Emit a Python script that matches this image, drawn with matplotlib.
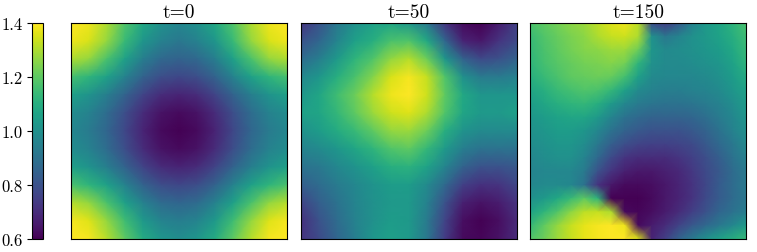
import numpy as np
import matplotlib
matplotlib.use("Agg")
import matplotlib.pyplot as plt

titles = ["t=0", "t=50", "t=150"]
cbar_ticks = [0.6, 0.8, 1.0, 1.2, 1.4]

field_t0 = [
 [1.40,1.38,1.30,1.18,1.08,1.00,0.97,1.00,1.08,1.18,1.30,1.38,1.40],
 [1.38,1.35,1.27,1.14,1.02,0.95,0.92,0.95,1.02,1.14,1.27,1.35,1.38],
 [1.30,1.27,1.17,1.05,0.94,0.87,0.85,0.87,0.94,1.05,1.17,1.27,1.30],
 [1.16,1.12,1.05,0.95,0.85,0.79,0.77,0.79,0.85,0.95,1.05,1.12,1.16],
 [1.05,1.01,0.94,0.85,0.76,0.70,0.68,0.70,0.76,0.85,0.94,1.01,1.05],
 [0.99,0.95,0.88,0.79,0.70,0.64,0.62,0.64,0.70,0.79,0.88,0.95,0.99],
 [0.97,0.93,0.86,0.77,0.68,0.62,0.60,0.62,0.68,0.77,0.86,0.93,0.97],
 [0.99,0.95,0.88,0.79,0.70,0.64,0.62,0.64,0.70,0.79,0.88,0.95,0.99],
 [1.05,1.01,0.94,0.85,0.76,0.70,0.68,0.70,0.76,0.85,0.94,1.01,1.05],
 [1.17,1.12,1.05,0.95,0.85,0.79,0.77,0.79,0.85,0.95,1.05,1.12,1.17],
 [1.31,1.27,1.17,1.05,0.95,0.88,0.86,0.88,0.95,1.05,1.17,1.27,1.31],
 [1.39,1.36,1.27,1.15,1.03,0.96,0.94,0.96,1.03,1.15,1.27,1.36,1.39],
 [1.40,1.39,1.31,1.20,1.09,1.02,0.99,1.02,1.09,1.20,1.31,1.39,1.40],
]

field_t50 = [
 [.72,.80,.92,1.00,1.05,1.07,1.02,.92,.72,.62,.60,.66,.75],
 [.80,.86,.96,1.05,1.10,1.17,1.18,1.08,.86,.68,.65,.72,.78],
 [.88,.94,1.03,1.12,1.18,1.27,1.31,1.22,1.02,.85,.78,.80,.85],
 [.97,1.02,1.10,1.17,1.25,1.35,1.39,1.33,1.18,1.00,.93,.93,.95],
 [1.02,1.07,1.15,1.22,1.31,1.38,1.40,1.34,1.20,1.08,1.02,1.02,1.02],
 [1.05,1.07,1.13,1.20,1.28,1.34,1.36,1.30,1.18,1.07,1.03,1.03,1.05],
 [1.00,1.04,1.09,1.14,1.20,1.27,1.28,1.22,1.10,1.01,.98,.98,.98],
 [.95,.98,1.02,1.07,1.12,1.18,1.20,1.13,1.03,.94,.90,.90,.90],
 [.90,.92,.97,1.01,1.05,1.10,1.11,1.06,.96,.85,.80,.80,.82],
 [.84,.88,.93,.97,1.01,1.04,1.04,.98,.87,.75,.71,.72,.77],
 [.76,.84,.90,.96,1.00,1.03,1.03,.95,.80,.67,.64,.66,.72],
 [.71,.80,.88,.95,1.00,1.04,1.03,.93,.76,.63,.60,.63,.70],
 [.72,.78,.86,.94,1.02,1.05,1.03,.92,.74,.62,.61,.64,.70],
]

field_t150 = [
 [1.17,1.20,1.23,1.26,1.28,1.32,1.36,1.38,1.32,.78,.74,.82,.95,1.03,1.07,1.12,1.17],
 [1.14,1.18,1.21,1.24,1.26,1.30,1.33,1.34,1.30,1.00,.92,.96,1.00,1.03,1.06,1.10,1.15],
 [1.13,1.17,1.20,1.23,1.25,1.26,1.28,1.28,1.22,1.02,.98,.99,1.00,1.02,1.04,1.08,1.14],
 [1.12,1.16,1.19,1.21,1.23,1.24,1.25,1.23,1.12,1.00,.98,.98,.99,1.00,1.02,1.06,1.12],
 [1.10,1.14,1.17,1.20,1.21,1.22,1.21,1.16,1.05,.98,.97,.97,.97,.98,1.00,1.04,1.09],
 [1.07,1.10,1.14,1.16,1.18,1.17,1.13,1.05,.98,.95,.94,.94,.95,.96,.98,1.02,1.06],
 [1.04,1.07,1.10,1.12,1.13,1.10,1.03,.97,.93,.91,.90,.90,.91,.93,.95,.99,1.04],
 [1.02,1.04,1.06,1.07,1.07,1.03,.96,.90,.87,.85,.85,.85,.86,.89,.93,.97,1.02],
 [1.00,1.02,1.04,1.04,1.02,.97,.90,.85,.82,.80,.80,.80,.82,.85,.90,.95,1.00],
 [.99,1.00,1.02,1.02,.99,.92,.84,.79,.76,.75,.75,.76,.78,.82,.87,.92,.98],
 [.97,.99,1.00,1.00,.96,.87,.78,.72,.70,.70,.70,.72,.75,.79,.84,.90,.95],
 [.96,.97,.97,.97,.93,.80,.72,.67,.65,.65,.67,.69,.73,.78,.82,.88,.93],
 [.97,.98,.98,.97,.90,.72,.65,.62,.62,.63,.65,.68,.72,.77,.83,.88,.93],
 [1.00,1.03,1.08,1.14,1.20,1.12,.60,.60,.60,.62,.65,.68,.72,.78,.83,.88,.92],
 [1.06,1.12,1.18,1.26,1.32,1.33,1.30,.62,.61,.63,.66,.70,.75,.80,.86,.90,.94],
 [1.13,1.20,1.27,1.33,1.37,1.39,1.40,1.38,.62,.66,.70,.76,.82,.87,.92,.97,1.04],
 [1.18,1.22,1.28,1.33,1.37,1.39,1.40,1.40,1.35,.68,.75,.85,.93,1.00,1.06,1.10,1.14],
]

fields = [field_t0, field_t50, field_t150]

plt.rcParams["font.family"] = ["cmr10", "DejaVu Serif"]
plt.rcParams["axes.formatter.use_mathtext"] = True

W, H = 757, 253
fig = plt.figure(figsize=(W / 100, H / 100), dpi=100)

def px_axes(x0, x1, y0, y1):
    return fig.add_axes([x0 / W, 1 - y1 / H, (x1 - x0) / W, (y1 - y0) / H])

boxes = [(71, 287), (301, 517), (530, 746.5)]
mesh = None
for box, title, field in zip(boxes, titles, fields):
    ax = px_axes(box[0], box[1], 24, 240)
    z = np.array(field)
    x = np.linspace(0, 1, z.shape[1])
    y = np.linspace(0, 1, z.shape[0])
    mesh = ax.pcolormesh(x, y, z, shading="gouraud", cmap="viridis", vmin=0.6, vmax=1.4)
    ax.set_xlim(0, 1)
    ax.set_ylim(1, 0)
    ax.set_xticks([])
    ax.set_yticks([])
    ax.set_title(title, fontsize=14, pad=4)

cax = px_axes(31.5, 43, 24, 240)
cb = fig.colorbar(mesh, cax=cax, ticks=cbar_ticks)
cb.ax.yaxis.set_ticks_position("left")
cb.ax.set_yticklabels([f"{v:.1f}" for v in cbar_ticks])
cb.ax.tick_params(labelsize=12, length=3.5, pad=3)

fig.savefig("out.png", dpi=100)
